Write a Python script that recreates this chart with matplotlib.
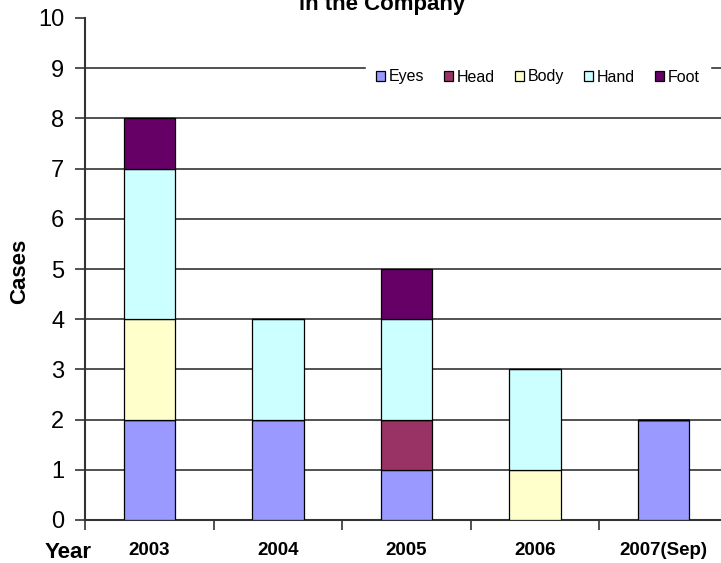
import matplotlib
matplotlib.use("Agg")
import matplotlib.pyplot as plt
from matplotlib.patches import Patch

years = ["2003", "2004", "2005", "2006", "2007(Sep)"]
parts = ["Eyes", "Head", "Body", "Hand", "Foot"]
eyes = [2, 2, 1, 0, 2]
head = [0, 0, 1, 0, 0]
body = [2, 0, 0, 1, 0]
hand = [3, 2, 2, 2, 0]
foot = [1, 0, 1, 0, 0]
colors = ["#9999FF", "#993366", "#FFFFCC", "#CCFFFF", "#660066"]
yticks = list(range(0, 11))

plt.rcParams["font.family"] = ["Liberation Sans", "DejaVu Sans"]

W, H = 721, 563
fig = plt.figure(figsize=(W / 100, H / 100), dpi=100)
ax = fig.add_axes([85 / W, (H - 520) / H, (728 - 85) / W, (520 - 18) / H])

x = list(range(len(years)))
bottom = [0] * len(years)
for name, vals, c in zip(parts, [eyes, head, body, hand, foot], colors):
    ax.bar(x, vals, width=0.4, bottom=bottom, color=c, edgecolor="black",
           linewidth=0.9, zorder=3, label=name)
    bottom = [b + v for b, v in zip(bottom, vals)]

ax.set_xlim(-0.5, len(years) - 0.5)
ax.set_ylim(0, 10)
ax.set_yticks(yticks)
ax.set_yticklabels([str(t) for t in yticks], fontsize=17)
for y in yticks[1:-1]:
    ax.axhline(y, color="#333333", linewidth=1.2, zorder=1)

ax.set_xticks(x)
ax.set_xticklabels(years, fontsize=13.5, fontweight="bold")
ax.tick_params(axis="x", which="major", length=0, pad=16)
ax.set_xticks([i - 0.5 for i in x], minor=True)
ax.tick_params(axis="x", which="minor", length=7, width=1.2, color="#333333",
               direction="out")
ax.tick_params(axis="y", length=7, width=1.2, color="#333333", direction="out", pad=8)

for s in ["top", "right"]:
    ax.spines[s].set_visible(False)
for s in ["left", "bottom"]:
    ax.spines[s].set_color("#333333")
    ax.spines[s].set_linewidth(1.5)

fig.text(20 / W, 1 - 271 / H, "Cases", fontsize=16, fontweight="bold",
         rotation=90, ha="center", va="center")
fig.text(45 / W, 1 - 553 / H, "Year", fontsize=16, fontweight="bold",
         ha="left", va="center")
fig.text(382 / W, 1 - 10 / H, "in the Company", fontsize=16, fontweight="bold",
         ha="center", va="baseline")

handles = [Patch(facecolor=c, edgecolor="black", linewidth=0.9) for c in colors]
leg = ax.legend(handles, parts, loc="center",
                bbox_to_anchor=((538 - 85) / (728 - 85), (520 - 77) / (520 - 18)),
                ncol=5, frameon=True, fontsize=11.5, handlelength=0.55,
                handleheight=0.55, handletextpad=0.25, columnspacing=1.25,
                borderpad=0.6, fancybox=False)
leg.get_frame().set_edgecolor("white")
leg.get_frame().set_facecolor("white")
leg.get_frame().set_alpha(1)
leg.set_zorder(5)

fig.savefig("out.png", dpi=100)
